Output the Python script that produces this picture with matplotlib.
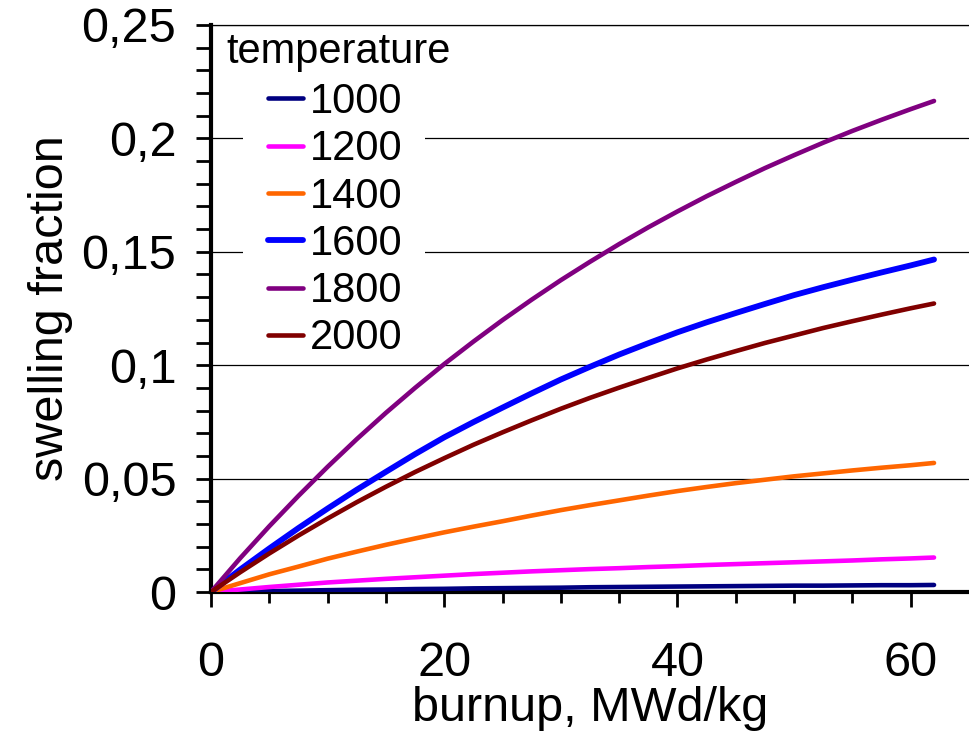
import matplotlib
matplotlib.use("Agg")
import matplotlib.pyplot as plt
from matplotlib.patches import Rectangle
from matplotlib.ticker import FixedLocator, MultipleLocator

plt.rcParams['font.family'] = ['Liberation Sans', 'DejaVu Sans']

# burnup, MWd/kg
burnup = [0, 2.5, 5, 7.5, 10, 12.5, 15, 17.5, 20, 22.5, 25, 27.5, 30,
          32.5, 35, 37.5, 40, 42.5, 45, 47.5, 50, 52.5, 55, 57.5, 60, 62]

# swelling fraction, one list per temperature
swell_1000 = [0, 0.0002, 0.0004, 0.0006, 0.0008, 0.0010, 0.0011, 0.0013, 0.0014, 0.0016, 0.0017, 0.0018, 0.0019,
              0.0021, 0.0022, 0.0023, 0.0024, 0.0025, 0.0026, 0.0027, 0.0028, 0.0028, 0.0029, 0.0030, 0.0030, 0.0031]
swell_1200 = [0, 0.0011, 0.0022, 0.0032, 0.0042, 0.0050, 0.0058, 0.0065, 0.0072, 0.0079, 0.0085, 0.0091, 0.0096,
              0.0101, 0.0105, 0.0110, 0.0114, 0.0119, 0.0123, 0.0127, 0.0131, 0.0135, 0.0139, 0.0144, 0.0148, 0.0152]
swell_1400 = [0, 0.0039, 0.0078, 0.0112, 0.0147, 0.0178, 0.0208, 0.0236, 0.0263, 0.0288, 0.0312, 0.0337, 0.0361,
              0.0383, 0.0404, 0.0425, 0.0445, 0.0463, 0.0480, 0.0495, 0.0510, 0.0523, 0.0536, 0.0548, 0.0559, 0.0569]
swell_1600 = [0, 0.0099, 0.0192, 0.0282, 0.0368, 0.0451, 0.0530, 0.0608, 0.0682, 0.0749, 0.0813, 0.0876, 0.0937,
              0.0993, 0.1047, 0.1097, 0.1145, 0.1189, 0.1230, 0.1270, 0.1309, 0.1344, 0.1377, 0.1409, 0.1440, 0.1466]
swell_1800 = [0, 0.0149, 0.0290, 0.0424, 0.0552, 0.0674, 0.0790, 0.0900, 0.1005, 0.1104, 0.1199, 0.1289, 0.1375,
              0.1456, 0.1534, 0.1608, 0.1678, 0.1745, 0.1808, 0.1869, 0.1926, 0.1981, 0.2033, 0.2082, 0.2129, 0.2165]
swell_2000 = [0, 0.0087, 0.0170, 0.0249, 0.0324, 0.0396, 0.0464, 0.0529, 0.0590, 0.0649, 0.0704, 0.0757, 0.0808,
              0.0856, 0.0901, 0.0944, 0.0986, 0.1025, 0.1062, 0.1098, 0.1131, 0.1164, 0.1194, 0.1223, 0.1251, 0.1272]

temperatures = ['1000', '1200', '1400', '1600', '1800', '2000']
series = [swell_1000, swell_1200, swell_1400, swell_1600, swell_1800, swell_2000]
colors = ['#000080', '#FF00FF', '#FF6600', '#0000FF', '#800080', '#800000']
widths = [3.3, 3.3, 3.3, 4.2, 3.3, 3.3]

y_ticks = [0, 0.05, 0.1, 0.15, 0.2, 0.25]
y_labels = ['0', '0,05', '0,1', '0,15', '0,2', '0,25']
x_ticks = [0, 20, 40, 60]
x_minor = [5, 10, 15, 25, 30, 35, 45, 50, 55]


def main():
    fig = plt.figure(figsize=(9.69, 7.39), dpi=100)
    ax = fig.add_axes([211 / 969, 1 - 592 / 739, 758 / 969, 567 / 739])

    for name, vals, col, lw in zip(temperatures, series, colors, widths):
        ax.plot(burnup, vals, color=col, lw=lw, label=name,
                solid_capstyle='round', solid_joinstyle='round', zorder=3)

    ax.set_xlim(0, 65)
    ax.set_ylim(0, 0.25)

    ax.yaxis.set_major_locator(FixedLocator(y_ticks))
    ax.set_yticklabels(y_labels)
    ax.yaxis.set_minor_locator(MultipleLocator(0.01))
    ax.xaxis.set_major_locator(FixedLocator(x_ticks))
    ax.xaxis.set_minor_locator(FixedLocator(x_minor))

    ax.grid(axis='y', which='major', color='black', lw=0.9, zorder=1)
    ax.set_axisbelow(True)

    for side in ['left', 'bottom']:
        ax.spines[side].set_linewidth(3)
    ax.spines['top'].set_linewidth(0.9)
    ax.spines['right'].set_visible(False)

    ax.tick_params(axis='y', which='both', direction='out', length=11, width=2,
                   labelsize=35, pad=14)
    ax.tick_params(axis='x', which='major', direction='out', length=11, width=2,
                   labelsize=35, pad=24)
    ax.tick_params(axis='x', which='minor', direction='out', length=8, width=2)

    ax.set_xlabel('burnup, MWd/kg', fontsize=35)
    ax.set_ylabel('swelling fraction', fontsize=35)
    ax.xaxis.set_label_coords(0.5, -0.166)
    ax.yaxis.set_label_coords(-0.182, 0.5)

    # white legend area that hides the grid lines behind the entries
    ax.add_patch(Rectangle((32 / 758, (592 - 360) / 567), 182 / 758, 325 / 567,
                           transform=ax.transAxes, facecolor='white',
                           edgecolor='none', zorder=2))

    leg = ax.legend(loc='upper left', bbox_to_anchor=(57 / 758, (592 - 82) / 567),
                    fontsize=30, frameon=False, borderpad=0,
                    handlelength=0.84, handletextpad=0.17, labelspacing=0.175,
                    borderaxespad=0)
    leg.set_zorder(5)

    ax.text(15 / 758, (592 - 63) / 567, 'temperature', transform=ax.transAxes,
            fontsize=30, va='baseline', ha='left', zorder=6)

    fig.savefig('out.png', dpi=100)


if __name__ == "__main__":
    main()
